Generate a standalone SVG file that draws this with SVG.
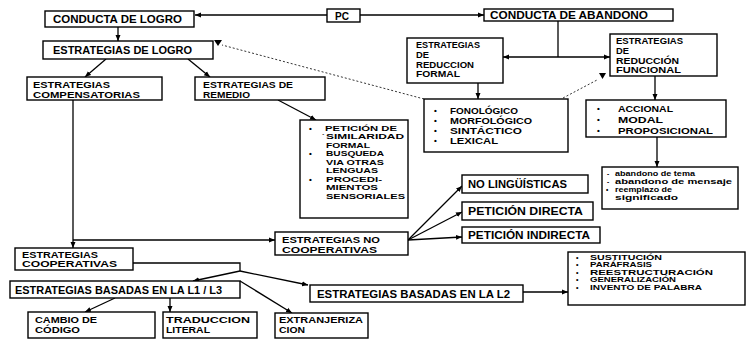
<svg xmlns="http://www.w3.org/2000/svg" width="750" height="339" viewBox="0 0 750 339">
<defs>
<marker id="ah" markerUnits="userSpaceOnUse" markerWidth="6" markerHeight="6" viewBox="0 0 6 6" refX="6" refY="3" orient="auto">
<path d="M0,0.5 L6,3 L0,5.5 z" fill="#000"/>
</marker>
<style>
.box{fill:#fff;stroke:#000;stroke-width:1.4}
.t{font-family:"Liberation Sans",Arial,sans-serif;font-weight:bold;font-size:10.5px;fill:#000}
.u{font-family:"Liberation Sans",Arial,sans-serif;font-weight:bold;font-size:9.5px;fill:#000}
.l{font-family:"Liberation Sans",Arial,sans-serif;font-weight:bold;font-size:8px;fill:#000}
.m{font-family:"Liberation Sans",Arial,sans-serif;font-weight:bold;font-size:7px;fill:#000}
.s{font-family:"Liberation Sans",Arial,sans-serif;font-weight:bold;font-size:6.5px;fill:#000}
.c{fill:none;stroke:#000;stroke-width:1.3}
.d{fill:none;stroke:#000;stroke-width:0.8;stroke-dasharray:2 2}
</style>
</defs>
<rect width="750" height="339" fill="#fff"/>
<g id="connectors">
<line class="c" x1="327" y1="15" x2="195" y2="15" marker-end="url(#ah)"/>
<line class="c" x1="360" y1="15" x2="484" y2="15" marker-end="url(#ah)"/>
<line class="c" x1="118" y1="27" x2="118" y2="41" marker-end="url(#ah)"/>
<line class="c" x1="106" y1="59" x2="85" y2="77" marker-end="url(#ah)"/>
<line class="c" x1="188" y1="59" x2="210" y2="77" marker-end="url(#ah)"/>
<line class="d" x1="424" y1="99" x2="222" y2="45"/>
<polygon points="214,40 222,40 218,46" fill="#000"/>
<line class="d" x1="563" y1="98" x2="597" y2="80"/>
<polygon points="599,73 606,73 602.5,79" fill="#000"/>
<polyline class="c" points="558,21 558,57"/>
<line class="c" x1="558" y1="57" x2="503" y2="57" marker-end="url(#ah)"/>
<line class="c" x1="558" y1="57" x2="610" y2="57" marker-end="url(#ah)"/>
<line class="c" x1="478" y1="83" x2="478" y2="99" marker-end="url(#ah)"/>
<line class="c" x1="655" y1="76" x2="655" y2="100" marker-end="url(#ah)"/>
<line class="c" x1="657" y1="137" x2="657" y2="167" marker-end="url(#ah)"/>
<line class="c" x1="278" y1="100" x2="316" y2="120" marker-end="url(#ah)"/>
<line class="c" x1="73" y1="100" x2="73" y2="248" marker-end="url(#ah)"/>
<line class="c" x1="73" y1="240" x2="275" y2="240" marker-end="url(#ah)"/>
<line class="c" x1="408" y1="240" x2="462" y2="186" marker-end="url(#ah)"/>
<line class="c" x1="408" y1="240" x2="462" y2="212" marker-end="url(#ah)"/>
<line class="c" x1="408" y1="240" x2="462" y2="237" marker-end="url(#ah)"/>
<polyline class="c" points="133,263 240,263 240,271"/>
<line class="c" x1="240" y1="271" x2="193" y2="281" marker-end="url(#ah)"/>
<line class="c" x1="240" y1="271" x2="308" y2="285" marker-end="url(#ah)"/>
<line class="c" x1="240" y1="281" x2="292" y2="313" marker-end="url(#ah)"/>
<line class="c" x1="115" y1="298" x2="85" y2="312" marker-end="url(#ah)"/>
<line class="c" x1="170" y1="298" x2="170" y2="312" marker-end="url(#ah)"/>
<line class="c" x1="523" y1="292" x2="568" y2="292" marker-end="url(#ah)"/>
</g>
<g id="n1"><rect class="box" x="45" y="11" width="149" height="16"/><text class="t" x="53" y="23" textLength="129" lengthAdjust="spacingAndGlyphs">CONDUCTA DE LOGRO</text></g>
<g id="n2"><rect class="box" x="327" y="9" width="33" height="13"/><text class="t" x="335" y="19.5" textLength="14" lengthAdjust="spacingAndGlyphs">PC</text></g>
<g id="n3"><rect class="box" x="484" y="9" width="189" height="12"/><text class="t" x="490" y="19" textLength="158" lengthAdjust="spacingAndGlyphs">CONDUCTA DE ABANDONO</text></g>
<g id="n4"><rect class="box" x="43" y="41" width="170" height="18"/><text class="t" x="53" y="54" textLength="139" lengthAdjust="spacingAndGlyphs">ESTRATEGIAS DE LOGRO</text></g>
<g id="n5"><rect class="box" x="407" y="38" width="96" height="45"/>
<text class="u" x="416" y="48" textLength="64" lengthAdjust="spacingAndGlyphs">ESTRATEGIAS</text>
<text class="u" x="416" y="57.5" textLength="13" lengthAdjust="spacingAndGlyphs">DE</text>
<text class="u" x="416" y="67.5" textLength="58" lengthAdjust="spacingAndGlyphs">REDUCCION</text>
<text class="u" x="416" y="77" textLength="44" lengthAdjust="spacingAndGlyphs">FORMAL</text></g>
<g id="n6"><rect class="box" x="610" y="34" width="107" height="42"/>
<text class="u" x="616" y="43.5" textLength="67" lengthAdjust="spacingAndGlyphs">ESTRATEGIAS</text>
<text class="u" x="616" y="53.5" textLength="13" lengthAdjust="spacingAndGlyphs">DE</text>
<text class="u" x="616" y="63.5" textLength="63" lengthAdjust="spacingAndGlyphs">REDUCCIÓN</text>
<text class="u" x="616" y="73" textLength="65" lengthAdjust="spacingAndGlyphs">FUNCIONAL</text></g>
<g id="n7"><rect class="box" x="27" y="77" width="135" height="23"/>
<text class="u" x="33" y="87.5" textLength="77" lengthAdjust="spacingAndGlyphs">ESTRATEGIAS</text>
<text class="u" x="33" y="97.5" textLength="107" lengthAdjust="spacingAndGlyphs">COMPENSATORIAS</text></g>
<g id="n8"><rect class="box" x="195" y="77" width="130" height="23"/>
<text class="u" x="203" y="87.5" textLength="90" lengthAdjust="spacingAndGlyphs">ESTRATEGIAS DE</text>
<text class="u" x="203" y="97.5" textLength="47" lengthAdjust="spacingAndGlyphs">REMEDIO</text></g>
<g id="n9"><rect class="box" x="424" y="99" width="144" height="53"/>
<text class="l" x="434" y="113">•</text><text class="u" x="450" y="113.5" textLength="68" lengthAdjust="spacingAndGlyphs">FONOLÓGICO</text>
<text class="l" x="434" y="123">•</text><text class="u" x="450" y="123.5" textLength="82" lengthAdjust="spacingAndGlyphs">MORFOLÓGICO</text>
<text class="l" x="434" y="133">•</text><text class="u" x="450" y="133.5" textLength="72" lengthAdjust="spacingAndGlyphs">SINTÁCTICO</text>
<text class="l" x="434" y="143">•</text><text class="u" x="450" y="143.5" textLength="48" lengthAdjust="spacingAndGlyphs">LEXICAL</text></g>
<g id="n10"><rect class="box" x="586" y="100" width="140" height="37"/>
<text class="l" x="597" y="111">•</text><text class="u" x="618" y="111.5" textLength="55" lengthAdjust="spacingAndGlyphs">ACCIONAL</text>
<text class="l" x="597" y="122">•</text><text class="u" x="618" y="122.5" textLength="45" lengthAdjust="spacingAndGlyphs">MODAL</text>
<text class="l" x="597" y="133">•</text><text class="u" x="618" y="133.5" textLength="95" lengthAdjust="spacingAndGlyphs">PROPOSICIONAL</text></g>
<g id="n11"><rect class="box" x="602" y="167" width="136" height="42"/>
<text class="s" x="607" y="175.5">-</text><text class="s" x="615" y="175.5" textLength="80" lengthAdjust="spacingAndGlyphs">abandono de tema</text>
<text class="s" x="607" y="183.5">-</text><text class="s" x="615" y="183.5" textLength="117" lengthAdjust="spacingAndGlyphs">abandono de mensaje</text>
<text class="s" x="606" y="192">•</text><text class="s" x="615" y="192" textLength="57" lengthAdjust="spacingAndGlyphs">reemplazo de</text>
<text class="s" x="615" y="200" textLength="63" lengthAdjust="spacingAndGlyphs">significado</text></g>
<g id="n12"><rect class="box" x="300" y="120" width="108" height="98"/>
<text class="l" x="309" y="130.5">•</text><text class="l" x="325" y="130.5" textLength="72" lengthAdjust="spacingAndGlyphs">PETICIÓN DE</text>
<text class="l" x="322" y="139">`</text><text class="l" x="326" y="139" textLength="78" lengthAdjust="spacingAndGlyphs">SIMILARIDAD</text>
<text class="l" x="326" y="147.5" textLength="44" lengthAdjust="spacingAndGlyphs">FORMAL</text>
<text class="l" x="309" y="156">•</text><text class="l" x="326" y="156" textLength="58" lengthAdjust="spacingAndGlyphs">BUSQUEDA</text>
<text class="l" x="326" y="164.5" textLength="58" lengthAdjust="spacingAndGlyphs">VIA OTRAS</text>
<text class="l" x="326" y="173" textLength="52" lengthAdjust="spacingAndGlyphs">LENGUAS</text>
<text class="l" x="309" y="181.5">•</text><text class="l" x="326" y="181.5" textLength="56" lengthAdjust="spacingAndGlyphs">PROCEDI-</text>
<text class="l" x="326" y="190" textLength="52" lengthAdjust="spacingAndGlyphs">MIENTOS</text>
<text class="l" x="326" y="198.5" textLength="79" lengthAdjust="spacingAndGlyphs">SENSORIALES</text></g>
<g id="n13"><rect class="box" x="462" y="175" width="126" height="18"/><text class="t" x="468" y="188" textLength="99" lengthAdjust="spacingAndGlyphs">NO LINGÜÍSTICAS</text></g>
<g id="n14"><rect class="box" x="462" y="202" width="131" height="18"/><text class="t" x="468" y="215" textLength="115" lengthAdjust="spacingAndGlyphs">PETICIÓN DIRECTA</text></g>
<g id="n15"><rect class="box" x="462" y="227" width="138" height="16"/><text class="t" x="468" y="239" textLength="122" lengthAdjust="spacingAndGlyphs">PETICIÓN INDIRECTA</text></g>
<g id="n16"><rect class="box" x="275" y="232" width="133" height="23"/>
<text class="u" x="282" y="242.5" textLength="98" lengthAdjust="spacingAndGlyphs">ESTRATEGIAS NO</text>
<text class="u" x="282" y="252.5" textLength="95" lengthAdjust="spacingAndGlyphs">COOPERATIVAS</text></g>
<g id="n17"><rect class="box" x="15" y="248" width="118" height="22"/>
<text class="u" x="22" y="257.5" textLength="76" lengthAdjust="spacingAndGlyphs">ESTRATEGIAS</text>
<text class="u" x="22" y="267" textLength="95" lengthAdjust="spacingAndGlyphs">COOPERATIVAS</text></g>
<g id="n18"><rect class="box" x="10" y="281" width="230" height="17"/><text class="t" x="15" y="293.5" textLength="207" lengthAdjust="spacingAndGlyphs">ESTRATEGIAS BASADAS EN LA L1 / L3</text></g>
<g id="n19"><rect class="box" x="310" y="285" width="213" height="17"/><text class="t" x="317" y="297.5" textLength="193" lengthAdjust="spacingAndGlyphs">ESTRATEGIAS BASADAS EN LA L2</text></g>
<g id="n20"><rect class="box" x="568" y="252" width="177" height="53"/>
<text class="m" x="576" y="259.5">•</text><text class="m" x="590" y="259.5" textLength="72" lengthAdjust="spacingAndGlyphs">SUSTITUCIÓN</text>
<text class="m" x="576" y="267">•</text><text class="m" x="590" y="267" textLength="62" lengthAdjust="spacingAndGlyphs">PARÁFRASIS</text>
<text class="m" x="576" y="274.5">•</text><text class="m" x="590" y="274.5" textLength="123" lengthAdjust="spacingAndGlyphs">REESTRUCTURACIÓN</text>
<text class="m" x="576" y="282">•</text><text class="m" x="590" y="282" textLength="86" lengthAdjust="spacingAndGlyphs">GENERALIZACIÓN</text>
<text class="m" x="576" y="289.5">•</text><text class="m" x="590" y="289.5" textLength="112" lengthAdjust="spacingAndGlyphs">INVENTO DE PALABRA</text></g>
<g id="n21"><rect class="box" x="28" y="312" width="127" height="26"/>
<text class="u" x="35" y="322.5" textLength="62" lengthAdjust="spacingAndGlyphs">CAMBIO DE</text>
<text class="u" x="35" y="332.5" textLength="45" lengthAdjust="spacingAndGlyphs">CÓDIGO</text></g>
<g id="n22"><rect class="box" x="163" y="312" width="94" height="26"/>
<text class="u" x="166" y="322.5" textLength="84" lengthAdjust="spacingAndGlyphs">TRADUCCION</text>
<text class="u" x="166" y="332.5" textLength="44" lengthAdjust="spacingAndGlyphs">LITERAL</text></g>
<g id="n23"><rect class="box" x="275" y="313" width="93" height="25"/>
<text class="u" x="279" y="322.5" textLength="84" lengthAdjust="spacingAndGlyphs">EXTRANJERIZA</text>
<text class="u" x="279" y="332.5" textLength="26" lengthAdjust="spacingAndGlyphs">CION</text></g>
</svg>
